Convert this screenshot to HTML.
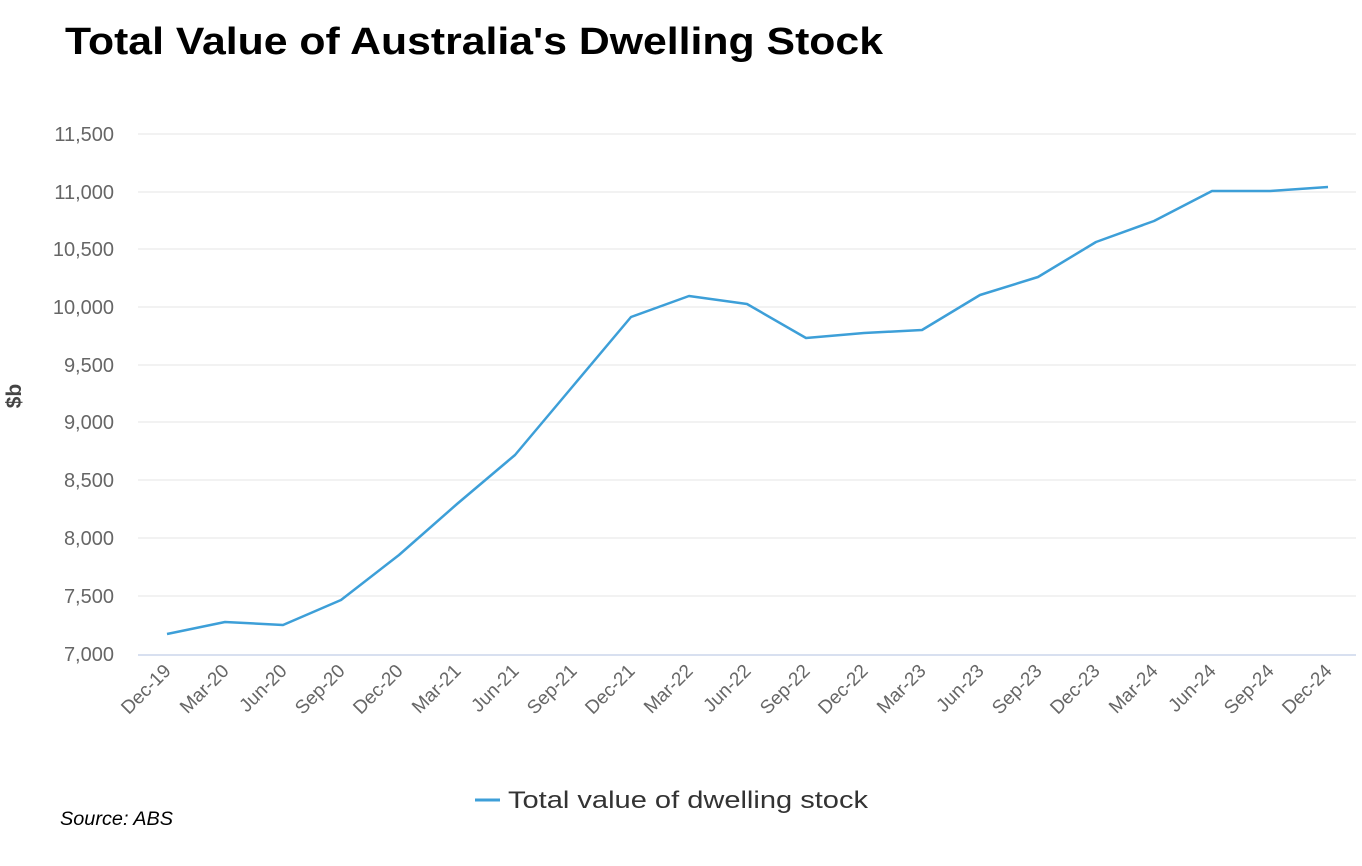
<!DOCTYPE html>
<html><head><meta charset="utf-8"><style>
body{margin:0;background:#fff;width:1362px;height:861px;overflow:hidden;font-family:"Liberation Sans",sans-serif}
</style></head><body>
<svg width="1362" height="861" xmlns="http://www.w3.org/2000/svg" font-family="Liberation Sans, sans-serif">
<text x="65" y="54" font-size="38" font-weight="bold" fill="#000" textLength="818" lengthAdjust="spacingAndGlyphs">Total Value of Australia's Dwelling Stock</text>
<g stroke="#e6e6e6" stroke-width="1">
<line x1="138" x2="1356" y1="134" y2="134"/><line x1="138" x2="1356" y1="192" y2="192"/>
<line x1="138" x2="1356" y1="249" y2="249"/><line x1="138" x2="1356" y1="307" y2="307"/>
<line x1="138" x2="1356" y1="365" y2="365"/><line x1="138" x2="1356" y1="422" y2="422"/>
<line x1="138" x2="1356" y1="480" y2="480"/><line x1="138" x2="1356" y1="538" y2="538"/>
<line x1="138" x2="1356" y1="596" y2="596"/>
</g>
<line x1="138" x2="1356" y1="655" y2="655" stroke="#ccd6eb" stroke-width="1.5"/>
<g font-size="20" fill="#666" text-anchor="end">
<text x="114" y="141">11,500</text><text x="114" y="199">11,000</text><text x="114" y="256">10,500</text>
<text x="114" y="314">10,000</text><text x="114" y="372">9,500</text><text x="114" y="429">9,000</text>
<text x="114" y="487">8,500</text><text x="114" y="545">8,000</text><text x="114" y="603">7,500</text>
<text x="114" y="661">7,000</text>
</g>
<text transform="translate(21,396) rotate(-90)" font-size="21" font-weight="bold" fill="#444" text-anchor="middle">$b</text>
<g font-size="19" fill="#666" text-anchor="end">
<text transform="translate(172,672) rotate(-45)">Dec-19</text>
<text transform="translate(230,672) rotate(-45)">Mar-20</text>
<text transform="translate(288,672) rotate(-45)">Jun-20</text>
<text transform="translate(346,672) rotate(-45)">Sep-20</text>
<text transform="translate(404,672) rotate(-45)">Dec-20</text>
<text transform="translate(462,672) rotate(-45)">Mar-21</text>
<text transform="translate(520,672) rotate(-45)">Jun-21</text>
<text transform="translate(578,672) rotate(-45)">Sep-21</text>
<text transform="translate(636,672) rotate(-45)">Dec-21</text>
<text transform="translate(694,672) rotate(-45)">Mar-22</text>
<text transform="translate(752,672) rotate(-45)">Jun-22</text>
<text transform="translate(811,672) rotate(-45)">Sep-22</text>
<text transform="translate(869,672) rotate(-45)">Dec-22</text>
<text transform="translate(927,672) rotate(-45)">Mar-23</text>
<text transform="translate(985,672) rotate(-45)">Jun-23</text>
<text transform="translate(1043,672) rotate(-45)">Sep-23</text>
<text transform="translate(1101,672) rotate(-45)">Dec-23</text>
<text transform="translate(1159,672) rotate(-45)">Mar-24</text>
<text transform="translate(1217,672) rotate(-45)">Jun-24</text>
<text transform="translate(1275,672) rotate(-45)">Sep-24</text>
<text transform="translate(1333,672) rotate(-45)">Dec-24</text>
</g>
<polyline fill="none" stroke="#3d9fd8" stroke-width="2.5" stroke-linejoin="round" points="167,634 225,622 283,625 341,600 399,555 457,504 515,455 573,386 631,317 689,296 747,304 806,338 864,333 922,330 980,295 1038,277 1096,242 1154,221 1212,191 1270,191 1328,187"/>
<line x1="475" x2="500" y1="800" y2="800" stroke="#3d9fd8" stroke-width="3"/>
<text x="508" y="808" font-size="24" fill="#333" textLength="360" lengthAdjust="spacingAndGlyphs">Total value of dwelling stock</text>
<text x="60" y="825" font-size="19" font-style="italic" fill="#000" textLength="113" lengthAdjust="spacingAndGlyphs">Source: ABS</text>
</svg>
</body></html>
